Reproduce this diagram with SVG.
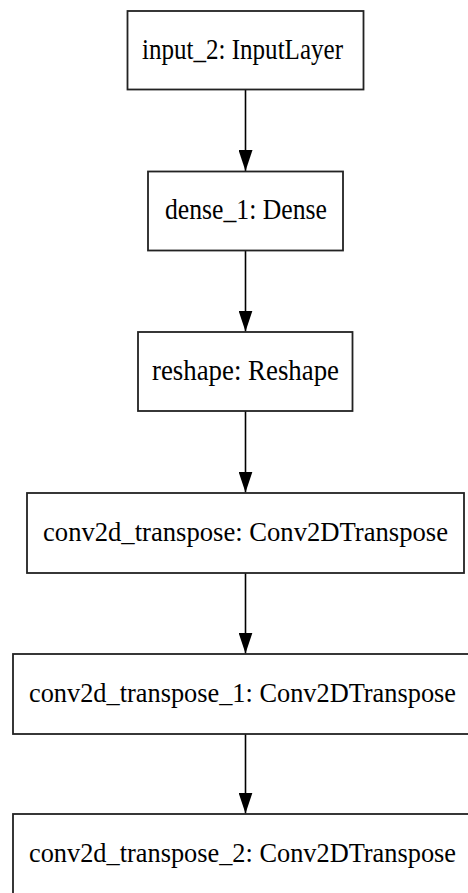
<svg xmlns="http://www.w3.org/2000/svg" width="468" height="893" viewBox="0 0 468 893">
<style>
.box{fill:#fff;stroke:#222;stroke-width:1.8}
.lbl{font-family:'Liberation Serif','Times New Roman',Times,serif;font-size:29px;fill:#000}
.wide{font-size:27px}
.edge{stroke:#000;stroke-width:1.6;fill:none}
</style>
<defs>
<marker id="ah" markerUnits="userSpaceOnUse" viewBox="0 0 21 14" refX="21" refY="7" markerWidth="21" markerHeight="14" orient="auto">
<path d="M0,0 L21,7 L0,14 Z" fill="#000"/>
</marker>
</defs>
<rect width="468" height="893" fill="#fff"/>
<g id="edges">
<path class="edge" d="M245.5,89.5 V171" marker-end="url(#ah)"/>
<path class="edge" d="M245.5,250.5 V331.5" marker-end="url(#ah)"/>
<path class="edge" d="M245.5,411 V492.5" marker-end="url(#ah)"/>
<path class="edge" d="M245.5,573 V653.5" marker-end="url(#ah)"/>
<path class="edge" d="M245.5,734 V813.5" marker-end="url(#ah)"/>
</g>
<g id="input_2">
<rect class="box" x="127.5" y="11" width="236" height="78.5"/>
<text class="lbl" x="142" y="58.5" textLength="201" lengthAdjust="spacingAndGlyphs">input_2: InputLayer</text>
</g>
<g id="dense_1">
<rect class="box" x="148" y="171.5" width="195" height="79"/>
<text class="lbl" x="165" y="219.3" textLength="162" lengthAdjust="spacingAndGlyphs">dense_1: Dense</text>
</g>
<g id="reshape">
<rect class="box" x="138" y="332" width="214.5" height="79"/>
<text class="lbl" x="152" y="380" textLength="187" lengthAdjust="spacingAndGlyphs">reshape: Reshape</text>
</g>
<g id="conv2d_transpose">
<rect class="box" x="27" y="493" width="437" height="80"/>
<text class="lbl wide" x="43" y="540.7" textLength="405" lengthAdjust="spacingAndGlyphs">conv2d_transpose: Conv2DTranspose</text>
</g>
<g id="conv2d_transpose_1">
<rect class="box" x="13" y="654" width="466" height="80"/>
<text class="lbl wide" x="29" y="701.5" textLength="427" lengthAdjust="spacingAndGlyphs">conv2d_transpose_1: Conv2DTranspose</text>
</g>
<g id="conv2d_transpose_2">
<rect class="box" x="13" y="814" width="466" height="82"/>
<text class="lbl wide" x="29" y="861.7" textLength="427" lengthAdjust="spacingAndGlyphs">conv2d_transpose_2: Conv2DTranspose</text>
</g>
</svg>
